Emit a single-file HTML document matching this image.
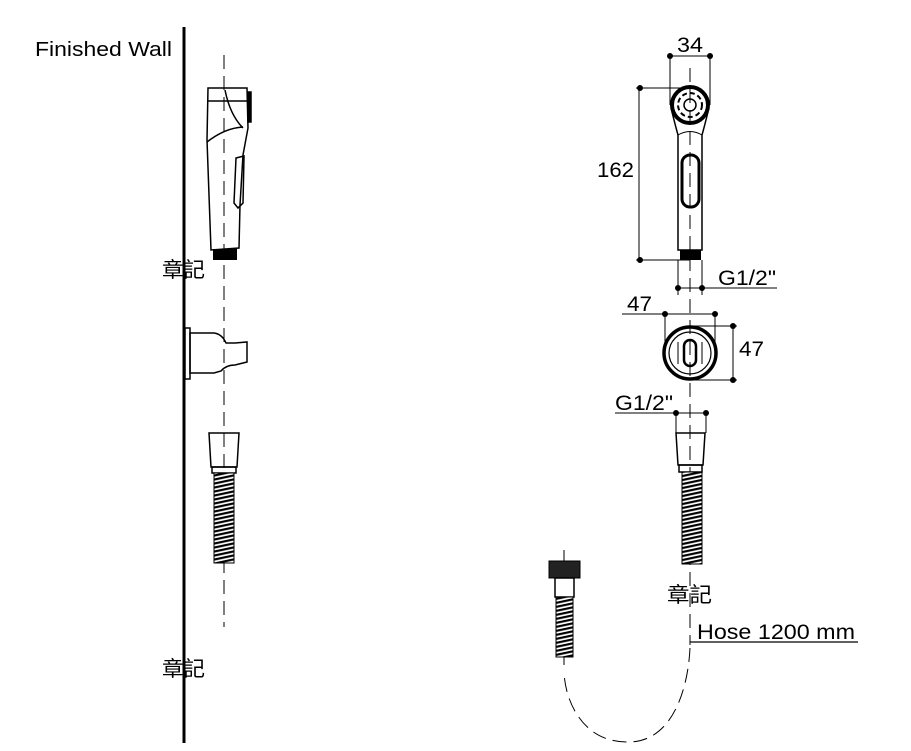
<!DOCTYPE html>
<html><head><meta charset="utf-8"><style>
html,body{margin:0;padding:0;background:#fff;}
svg{display:block}
text{font-family:"Liberation Sans","Noto Sans CJK TC",sans-serif;fill:#000}
</style></head><body>
<svg width="911" height="751" viewBox="0 0 911 751" xmlns="http://www.w3.org/2000/svg">
<defs>
<pattern id="thr" width="4" height="4" patternUnits="userSpaceOnUse" patternTransform="skewY(-12)">
<rect width="4" height="4" fill="#fff"/><rect width="4" height="2.2" fill="#000"/>
</pattern>
</defs>
<!-- LEFT -->
<text x="35" y="56" font-size="20" textLength="137" lengthAdjust="spacingAndGlyphs">Finished Wall</text>
<line x1="184" y1="27" x2="184" y2="743" stroke="#000" stroke-width="3"/>
<line x1="224" y1="55" x2="224" y2="627" stroke="#000" stroke-width="1" stroke-dasharray="14,7"/>
<!-- handset side -->
<g fill="none" stroke="#000" stroke-width="1.5">
<path d="M208,88 L247,88 L248,128 L243,155 L240,205 L239,248 L211,250 L207,140 Z"/>
<path d="M208,101 L247,101"/>
<path d="M207,142 Q225,128 243,127"/>
<path d="M225,90 Q230,115 243,128"/>
<path d="M236,158 L244,156 L243,203 L238,208 L234,203 Z"/>
<rect x="248" y="92" width="3" height="30" fill="#000"/>
</g>
<rect x="213" y="249" width="24" height="11" fill="#000"/>
<text x="162" y="277" font-size="21" textLength="43" lengthAdjust="spacingAndGlyphs">章記</text>
<!-- bracket -->
<g fill="none" stroke="#000" stroke-width="1.5">
<rect x="185" y="328" width="5" height="51"/>
<path d="M190,333 L214,333 Q222,334 226,343 L235,343 L247,342 L247,362 L235,365 Q226,365 221,371 L214,373 L190,373 Z"/>
</g>
<!-- hose nut left -->
<g fill="none" stroke="#000" stroke-width="1.5">
<path d="M209,433 L239,433 L237,467 L211,467 Z"/>
<rect x="212" y="467" width="24" height="6"/>
</g>
<rect x="214" y="473" width="20" height="90" fill="url(#thr)" stroke="#000" stroke-width="1"/>
<text x="162" y="676" font-size="21" textLength="43" lengthAdjust="spacingAndGlyphs">章記</text>

<!-- RIGHT -->
<line x1="690" y1="68" x2="690" y2="645" stroke="#000" stroke-width="1" stroke-dasharray="14,7"/>
<g stroke="#000" stroke-width="1" fill="none">
<line x1="670" y1="56" x2="710" y2="56"/>
<line x1="670" y1="56" x2="670" y2="105"/><line x1="710" y1="56" x2="710" y2="105"/>
<line x1="636" y1="88" x2="690" y2="88"/>
<line x1="639" y1="88" x2="639" y2="260"/>
<line x1="636" y1="260" x2="690" y2="260"/>
<line x1="678" y1="260" x2="678" y2="295"/><line x1="702" y1="260" x2="702" y2="295"/>
<line x1="678" y1="288" x2="777" y2="288"/>
<line x1="622" y1="314" x2="715" y2="314"/>
<line x1="665" y1="314" x2="665" y2="345"/><line x1="715" y1="314" x2="715" y2="345"/>
<line x1="690" y1="326" x2="737" y2="326"/><line x1="690" y1="380" x2="737" y2="380"/>
<line x1="733" y1="326" x2="733" y2="380"/>
<line x1="615" y1="413" x2="706" y2="413"/>
<line x1="676" y1="413" x2="676" y2="433"/><line x1="706" y1="413" x2="706" y2="433"/>
</g>
<g fill="#000">
<circle cx="670" cy="56" r="3"/><circle cx="710" cy="56" r="3"/>
<circle cx="640" cy="88" r="3"/><circle cx="640" cy="260" r="3"/>
<circle cx="678" cy="288" r="3"/><circle cx="702" cy="288" r="3"/>
<circle cx="665" cy="314" r="3"/><circle cx="715" cy="314" r="3"/>
<circle cx="733" cy="326" r="3"/><circle cx="733" cy="380" r="3"/>
<circle cx="676" cy="413" r="3"/><circle cx="706" cy="413" r="3"/>
</g>
<text x="677" y="52" font-size="21" textLength="26" lengthAdjust="spacingAndGlyphs">34</text>
<text x="597" y="177" font-size="21" textLength="37" lengthAdjust="spacingAndGlyphs">162</text>
<text x="718" y="285" font-size="21" textLength="58" lengthAdjust="spacingAndGlyphs">G1/2"</text>
<text x="627" y="311" font-size="21" textLength="25" lengthAdjust="spacingAndGlyphs">47</text>
<text x="739" y="356" font-size="21" textLength="25" lengthAdjust="spacingAndGlyphs">47</text>
<text x="615" y="410" font-size="21" textLength="58" lengthAdjust="spacingAndGlyphs">G1/2"</text>
<!-- handset front -->
<g fill="none" stroke="#000">
<path d="M672,112 Q676,128 678,135 L678,250 L702,250 L702,135 Q704,128 708,112" stroke-width="1.5"/>
<path d="M678,135 Q690,128 702,135" stroke-width="1"/>
<circle cx="690" cy="105" r="18" stroke-width="4"/>
<circle cx="690" cy="105" r="12" stroke-width="2" stroke-dasharray="5,3"/>
<circle cx="690" cy="105" r="6" stroke-width="1.5"/>
<rect x="682" y="155" width="17" height="52" rx="8" stroke-width="3"/>
</g>
<rect x="680" y="250" width="21" height="10" fill="#000"/>
<!-- holder front -->
<g fill="none" stroke="#000">
<circle cx="690" cy="353" r="26" stroke-width="3.5"/>
<circle cx="690" cy="353" r="21" stroke-width="1.2"/>
<rect x="684" y="340" width="12" height="26" rx="6" stroke-width="2.5"/>
<line x1="678" y1="342" x2="678" y2="364" stroke-width="1"/>
<line x1="702" y1="342" x2="702" y2="364" stroke-width="1"/>
</g>
<!-- hose nut right -->
<g fill="none" stroke="#000" stroke-width="1.5">
<path d="M676,433 L705,433 L703,465 L678,465 Z"/>
<rect x="679" y="465" width="23" height="7"/>
</g>
<rect x="682" y="472" width="20" height="92" fill="url(#thr)" stroke="#000" stroke-width="1"/>
<text x="667" y="602" font-size="21" textLength="45" lengthAdjust="spacingAndGlyphs">章記</text>
<text x="697" y="639" font-size="21" textLength="158" lengthAdjust="spacingAndGlyphs">Hose 1200 mm</text>
<line x1="690" y1="642" x2="858" y2="642" stroke="#000" stroke-width="1.2"/>
<path d="M690,648 C688,690 672,743 627,742 C582,742 565,700 564,672" fill="none" stroke="#000" stroke-width="1" stroke-dasharray="14,7"/>
<!-- left hose end -->
<line x1="564" y1="550" x2="564" y2="665" stroke="#000" stroke-width="1"/>
<rect x="549" y="561" width="31" height="17" fill="#222" stroke="#000"/>
<rect x="555" y="578" width="19" height="19" fill="#fff" stroke="#000" stroke-width="1.5"/>
<rect x="556" y="597" width="17" height="60" fill="url(#thr)" stroke="#000" stroke-width="1"/>
</svg>
</body></html>
